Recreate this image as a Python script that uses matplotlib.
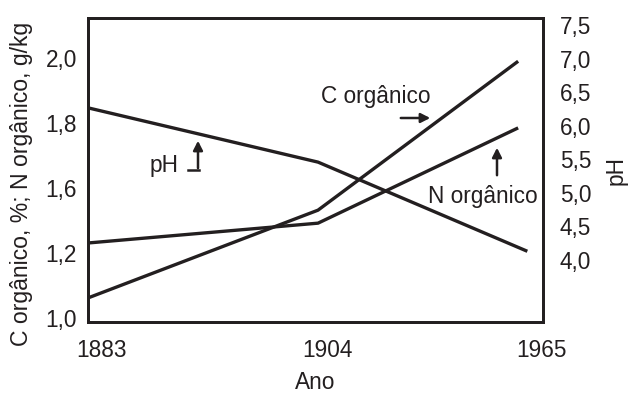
import matplotlib.pyplot as plt
import matplotlib.ticker as mticker

plt.rcParams['font.family'] = ['Liberation Sans', 'DejaVu Sans']

# ---------- DATA ----------
anos = ['1883', '1904', '1965']
x_cn = [0, 1, 1.87]          # horizontal spacing as drawn
x_ph = [0, 1, 1.91]
c_org = [1.062, 1.332, 1.79]     # C orgânico, %
n_org = [1.231, 1.292, 1.585]    # N orgânico, g/kg
ph = [6.27, 5.46, 4.13]

left_ticks = [1.0, 1.2, 1.4, 1.6, 1.8]
left_labels = ['1,0', '1,2', '1,6', '1,8', '2,0']
right_ticks = [4.0, 4.5, 5.0, 5.5, 6.0, 6.5, 7.0, 7.5]
right_labels = ['4,0', '4,5', '5,0', '5,5', '6,0', '6,5', '7,0', '7,5']

FS = 16.3
INK = '#231f20'
LW = 2.4

fig = plt.figure(figsize=(6.31, 3.96), dpi=100)
ax = fig.add_axes([0.1395, 0.1869, 0.721, 0.7676])
ax2 = ax.twinx()

ax.plot(x_cn, c_org, color=INK, lw=LW, solid_capstyle='butt')
ax.plot(x_cn, n_org, color=INK, lw=LW, solid_capstyle='butt')
ax2.plot(x_ph, ph, color=INK, lw=LW, solid_capstyle='butt')

ax.set_xlim(0, 1.978)
ax.set_ylim(0.988, 1.923)
ax2.set_ylim(3.075, 7.61)

ax.xaxis.set_major_locator(mticker.FixedLocator([0.06, 1.04, 1.97]))
ax.set_xticklabels(anos)
ax.yaxis.set_major_locator(mticker.FixedLocator(left_ticks))
ax.set_yticklabels(left_labels)
ax2.yaxis.set_major_locator(mticker.FixedLocator(right_ticks))
ax2.set_yticklabels(right_labels)

ax.tick_params(axis='x', length=0, labelsize=FS, colors=INK, pad=12)
ax.tick_params(axis='y', length=0, labelsize=FS, colors=INK, pad=8)
ax2.tick_params(axis='y', length=0, labelsize=FS, colors=INK, pad=12)

for a in (ax, ax2):
    for s in a.spines.values():
        s.set_linewidth(2.0)
        s.set_color(INK)

ax.set_xlabel('Ano', fontsize=FS, color=INK, labelpad=7)
ax.set_ylabel('C orgânico, %; N orgânico, g/kg', fontsize=16.6, color=INK)
ax.yaxis.set_label_coords(-0.12, 0.455)
ax2.set_ylabel('pH', fontsize=FS, color=INK, rotation=90, labelpad=10)

# ---- annotations with arrows ----
def px(x, y):
    # pixel in reference image -> figure fraction
    return (x / 631, 1 - y / 396)

arrow_kw = dict(arrowstyle='-|>,head_length=0.55,head_width=0.28', color=INK, lw=1.8)

fig.text(*px(376, 97), 'C orgânico', fontsize=FS, color=INK, ha='center', va='center')
ax.annotate('', xy=px(433, 118), xytext=px(398, 118), xycoords='figure fraction',
            textcoords='figure fraction', arrowprops=arrow_kw)

fig.text(*px(483, 196), 'N orgânico', fontsize=FS, color=INK, ha='center', va='center')
ax.annotate('', xy=px(497, 145), xytext=px(497, 178), xycoords='figure fraction',
            textcoords='figure fraction', arrowprops=arrow_kw)

fig.text(*px(164, 166), 'pH', fontsize=FS, color=INK, ha='center', va='center')
fig.add_artist(plt.Line2D([188 / 631, 198.8 / 631], [1 - 170 / 396, 1 - 170 / 396],
                          color=INK, lw=1.8))
ax.annotate('', xy=px(198, 138), xytext=px(198, 170.9), xycoords='figure fraction',
            textcoords='figure fraction', arrowprops=arrow_kw)

fig.savefig('out.png', dpi=100)
